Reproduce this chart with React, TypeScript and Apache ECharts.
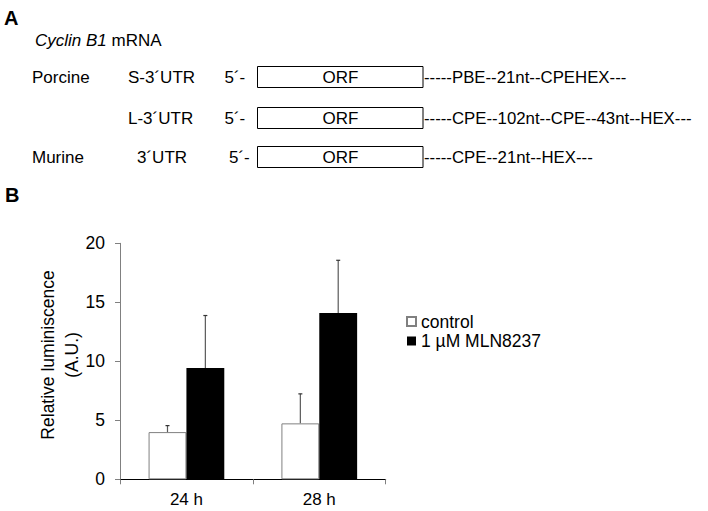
import React, { useEffect, useRef } from "react";
import * as echarts from "echarts";

const categories = ["24 h", "28 h"];
const controlValues = [4.0, 4.74];
const controlErrors = [0.55, 2.5];
const mlnValues = [9.43, 14.09];
const mlnErrors = [4.45, 4.47];
const yTicks = { min: 0, max: 20, interval: 5 };
const seriesNames = ["control", "1 µM MLN8237"];

const rows = [
  { species: "Porcine", utr: "S-3´UTR", tail: "-----PBE--21nt--CPEHEX---" },
  { species: "", utr: "L-3´UTR", tail: "-----CPE--102nt--CPE--43nt--HEX---" },
  { species: "Murine", utr: "3´UTR", tail: "-----CPE--21nt--HEX---" },
];

const FONT = "'Liberation Sans', Arial, Helvetica, sans-serif";

export default function App() {
  const ref = useRef<HTMLDivElement>(null);
  useEffect(() => {
    if (!ref.current) return;
    const chart = echarts.init(ref.current, null, { renderer: "svg" });
    const rowY = [77, 118, 157];
    const utrX = [128, 128, 137];
    const fiveX = [224.5, 224.5, 229];
    const graphics: any[] = [
      { type: "text", left: 4, top: 8, style: { text: "A", font: `bold 20px ${FONT}`, fill: "#000" } },
      { type: "text", left: 5, top: 185, style: { text: "B", font: `bold 20px ${FONT}`, fill: "#000" } },
      {
        type: "text",
        x: 35,
        y: 40,
        style: {
          text: "{i|Cyclin B1} mRNA",
          font: `17px ${FONT}`,
          fill: "#000",
          verticalAlign: "middle",
          rich: { i: { fontStyle: "italic", fontSize: 17, fontFamily: FONT } },
        },
      },
    ];
    rows.forEach((r, i) => {
      const y = rowY[i];
      const f = `17px ${FONT}`;
      if (r.species)
        graphics.push({ type: "text", x: 32, y, style: { text: r.species, font: f, fill: "#000", verticalAlign: "middle" } });
      graphics.push({ type: "text", x: utrX[i], y, style: { text: r.utr, font: f, fill: "#000", verticalAlign: "middle" } });
      graphics.push({ type: "text", x: fiveX[i], y, style: { text: "5´-", font: f, fill: "#000", verticalAlign: "middle" } });
      graphics.push({ type: "rect", shape: { x: 257.5, y: y - 10.5, width: 165.5, height: 21 }, style: { fill: "#fff", stroke: "#000", lineWidth: 1 } });
      graphics.push({ type: "text", x: 340.5, y, style: { text: "ORF", font: f, fill: "#000", align: "center", verticalAlign: "middle" } });
      graphics.push({ type: "text", x: 424, y, style: { text: r.tail, font: `16.8px ${FONT}`, fill: "#000", verticalAlign: "middle" } });
    });
    graphics.push({
      type: "text",
      x: 60,
      y: 355,
      rotation: Math.PI / 2,
      style: {
        text: "Relative luminiscence\n(A.U.)",
        font: `17.5px ${FONT}`,
        fill: "#000",
        align: "center",
        verticalAlign: "middle",
        lineHeight: 23.4,
      },
    });

    const errData: any[] = [];
    controlValues.forEach((v, i) => errData.push([i, v, controlErrors[i], -1]));
    mlnValues.forEach((v, i) => errData.push([i, v, mlnErrors[i], 1]));
    const gapFrac = 0.43;

    chart.setOption({
      animation: false,
      textStyle: { fontFamily: FONT },
      grid: { left: 120, top: 243.3, right: 322.3, bottom: 31.7 },
      legend: {
        data: seriesNames,
        orient: "vertical",
        left: 406,
        top: 312.5,
        itemWidth: 9,
        itemHeight: 9,
        itemGap: 1.5,
        icon: "rect",
        textStyle: { fontSize: 17.5, color: "#000", fontFamily: FONT, padding: [0, 0, 0, 0] },
        padding: 0,
      },
      xAxis: {
        type: "category",
        data: categories,
        axisLine: { lineStyle: { color: "#000", width: 1 } },
        axisTick: { show: true, length: 5, lineStyle: { color: "#808080" } },
        axisLabel: { fontSize: 17, color: "#000", margin: 12, fontFamily: FONT },
      },
      yAxis: {
        type: "value",
        min: yTicks.min,
        max: yTicks.max,
        interval: yTicks.interval,
        splitLine: { show: false },
        axisLine: { show: true, lineStyle: { color: "#808080", width: 1 } },
        axisTick: { show: true, length: 5, lineStyle: { color: "#808080" } },
        axisLabel: { fontSize: 17.5, color: "#000", margin: 15, fontFamily: FONT },
      },
      series: [
        {
          name: seriesNames[0],
          type: "bar",
          data: controlValues,
          barGap: "0%",
          barCategoryGap: "43%",
          itemStyle: { color: "#fff", borderColor: "#808080", borderWidth: 1 },
        },
        {
          name: seriesNames[1],
          type: "bar",
          data: mlnValues,
          barGap: "0%",
          barCategoryGap: "43%",
          itemStyle: { color: "#000" },
        },
        {
          name: "errors",
          type: "custom",
          z: 10,
          data: errData,
          encode: { x: 0, y: 1 },
          renderItem: (params: any, api: any) => {
            const ci = api.value(0);
            const v = api.value(1);
            const e = api.value(2);
            const side = api.value(3);
            const base = api.coord([ci, v]);
            const top = api.coord([ci, v + e]);
            const band = api.size([1, 0])[0];
            const barW = (band * (1 - gapFrac)) / 2;
            const x = base[0] + (side * barW) / 2;
            const stroke = "#595959";
            return {
              type: "group",
              children: [
                { type: "line", shape: { x1: x, y1: base[1], x2: x, y2: top[1] }, style: { stroke, lineWidth: 1.2 } },
                { type: "line", shape: { x1: x - 2, y1: top[1], x2: x + 2, y2: top[1] }, style: { stroke: "#333", lineWidth: 1.2 } },
              ],
            };
          },
        },
      ],
      graphic: graphics,
    });
    return () => chart.dispose();
  }, []);
  return <div ref={ref} style={{ width: 708, height: 511, position: "absolute", left: 0, top: 0 }} />;
}
